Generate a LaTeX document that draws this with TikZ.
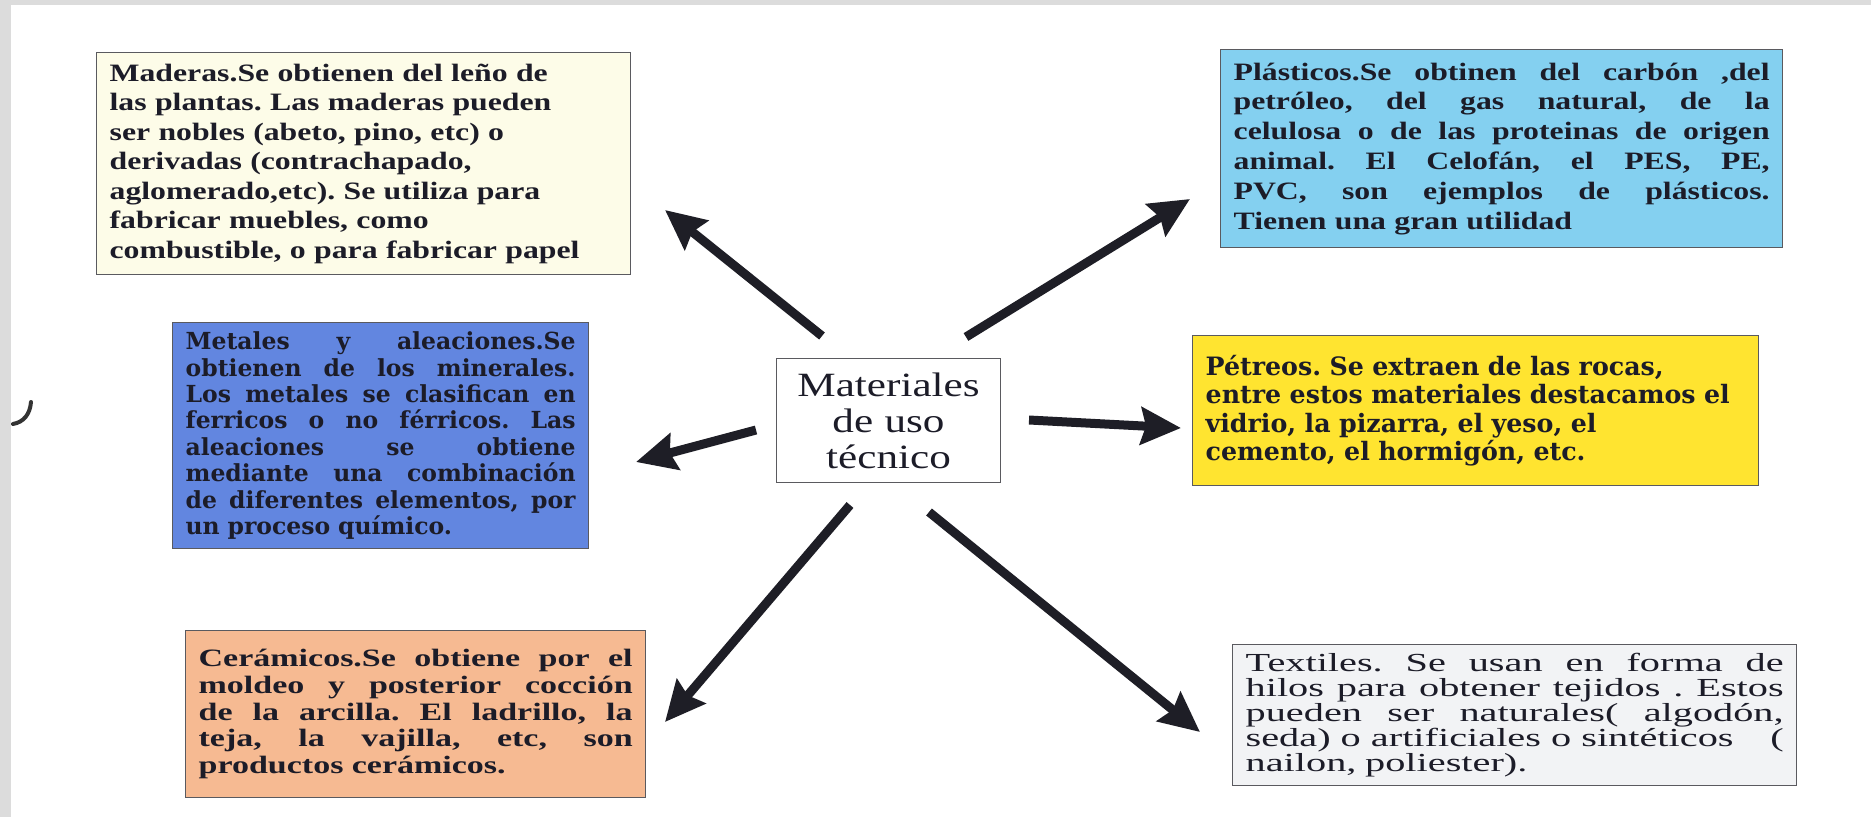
\documentclass[tikz,border=0pt]{standalone}
\usepackage{fontspec}
\setmainfont{Liberation Serif}[FakeStretch=1.27]
\newfontfamily\cerfont{Liberation Serif}[FakeStretch=1.36]
\newfontfamily\texfont{Liberation Serif}[FakeStretch=1.55]
\newfontfamily\bookfont{DejaVu Serif}
\usetikzlibrary{arrows.meta}
\definecolor{frame}{RGB}{220,220,220}
\definecolor{boxline}{RGB}{90,90,95}
\definecolor{txt}{RGB}{28,28,40}
\definecolor{arrowc}{RGB}{30,30,38}
\definecolor{cMad}{RGB}{253,252,232}
\definecolor{cPla}{RGB}{132,208,240}
\definecolor{cMet}{RGB}{98,134,224}
\definecolor{cPet}{RGB}{255,228,48}
\definecolor{cCer}{RGB}{246,186,146}
\definecolor{cTex}{RGB}{242,243,245}
\newcommand{\jl}[1]{\makebox[\linewidth][s]{\spaceskip=0pt\xspaceskip=0pt\relax #1}}
\tikzset{
  infobox/.style={draw=boxline, line width=1.3pt, anchor=north west, align=left,
    inner xsep=13pt, inner ysep=4pt, text=txt},
  arr/.style={draw=arrowc, line width=9pt, -{Stealth[length=40pt,width=37pt,inset=5pt]}},
}
\frenchspacing
\begin{document}
\frenchspacing
\begin{tikzpicture}[x=1pt,y=-1pt]
\useasboundingbox (0,0) rectangle (1871,817);
\fill[white] (0,0) rectangle (1871,817);
\fill[frame] (0,0) rectangle (1871,5);
\fill[frame] (0,0) rectangle (11,817);
\draw[line width=4pt, line cap=round, black!80] (13,424) .. controls (24,422) and (30,414) .. (31,402);

\node[infobox, fill=cMad, text width=508pt, minimum width=534pt, minimum height=222pt,
  font=\fontsize{25}{29.5}\selectfont\bfseries] (mad) at (96,52)
 {Maderas.Se obtienen del leño de\\
  las plantas. Las maderas pueden\\
  ser nobles (abeto, pino, etc) o\\
  derivadas (contrachapado,\\
  aglomerado,etc). Se utiliza para\\
  fabricar muebles, como\\
  combustible, o para fabricar papel};

\node[infobox, fill=cPla, text width=536pt, minimum width=562pt, minimum height=198pt,
  font=\fontsize{25}{29.8}\selectfont\bfseries] (pla) at (1220,49)
 {\jl{Plásticos.Se obtinen del carbón ,del}\\
  \jl{petróleo, del gas natural, de la}\\
  \jl{celulosa o de las proteinas de origen}\\
  \jl{animal. El Celofán, el PES, PE,}\\
  \jl{PVC, son ejemplos de plásticos.}\\
  Tienen una gran utilidad};

\node[infobox, fill=cMet, text width=390pt, minimum width=416pt, minimum height=226pt,
  font=\bookfont\bfseries\fontsize{23.5}{26.4}\selectfont] (met) at (172,322)
 {\jl{Metales y aleaciones.Se}\\
  \jl{obtienen de los minerales.}\\
  \jl{Los metales se clasifican en}\\
  \jl{ferricos o no férricos. Las}\\
  \jl{aleaciones se obtiene}\\
  \jl{mediante una combinación}\\
  \jl{de diferentes elementos, por}\\
  un proceso químico.};

\node[infobox, fill=cPet, text width=540pt, minimum width=566pt, minimum height=150pt,
  font=\bookfont\bfseries\fontsize{25.3}{28.3}\selectfont] (pet) at (1192,335)
 {Pétreos. Se extraen de las rocas,\\
  entre estos materiales destacamos el\\
  vidrio, la pizarra, el yeso, el\\
  cemento, el hormigón, etc.};

\node[infobox, fill=cCer, text width=434pt, minimum width=460pt, minimum height=167pt,
  font=\cerfont\bfseries\fontsize{25}{26.8}\selectfont] (cer) at (185,630)
 {\jl{Cerámicos.Se obtiene por el}\\
  \jl{moldeo y posterior cocción}\\
  \jl{de la arcilla. El ladrillo, la}\\
  \jl{teja, la vajilla, etc, son}\\
  productos cerámicos.};

\node[infobox, fill=cTex, text width=538pt, minimum width=564pt, minimum height=141pt,
  font=\texfont\fontsize{26}{25}\selectfont] (tex) at (1232,644)
 {\jl{Textiles. Se usan en forma de}\\
  \jl{hilos para obtener tejidos . Estos}\\
  \jl{pueden ser naturales( algodón,}\\
  \jl{seda) o artificiales o sintéticos\hfill(}\\
  nailon, poliester).};

\node[draw=boxline, line width=1pt, fill=white, anchor=north west, align=center,
  text width=200pt, minimum width=224pt, minimum height=124pt, text=txt,
  font=\fontsize{34}{36}\selectfont] (cen) at (776,358)
 {Materiales\\de uso\\técnico};

\coordinate (t1) at (822,336); \coordinate (h1) at (665,210);
\coordinate (t2) at (966,337); \coordinate (h2) at (1190,199);
\coordinate (t3) at (756,430); \coordinate (h3) at (636,462);
\coordinate (t4) at (1029,420); \coordinate (h4) at (1181,428);
\coordinate (t5) at (850,505); \coordinate (h5) at (665,722);
\coordinate (t6) at (929,512); \coordinate (h6) at (1200,732);
\draw[arr] (t1) -- (h1);
\draw[arr] (t2) -- (h2);
\draw[arr] (t3) -- (h3);
\draw[arr] (t4) -- (h4);
\draw[arr] (t5) -- (h5);
\draw[arr] (t6) -- (h6);
\end{tikzpicture}
\end{document}
